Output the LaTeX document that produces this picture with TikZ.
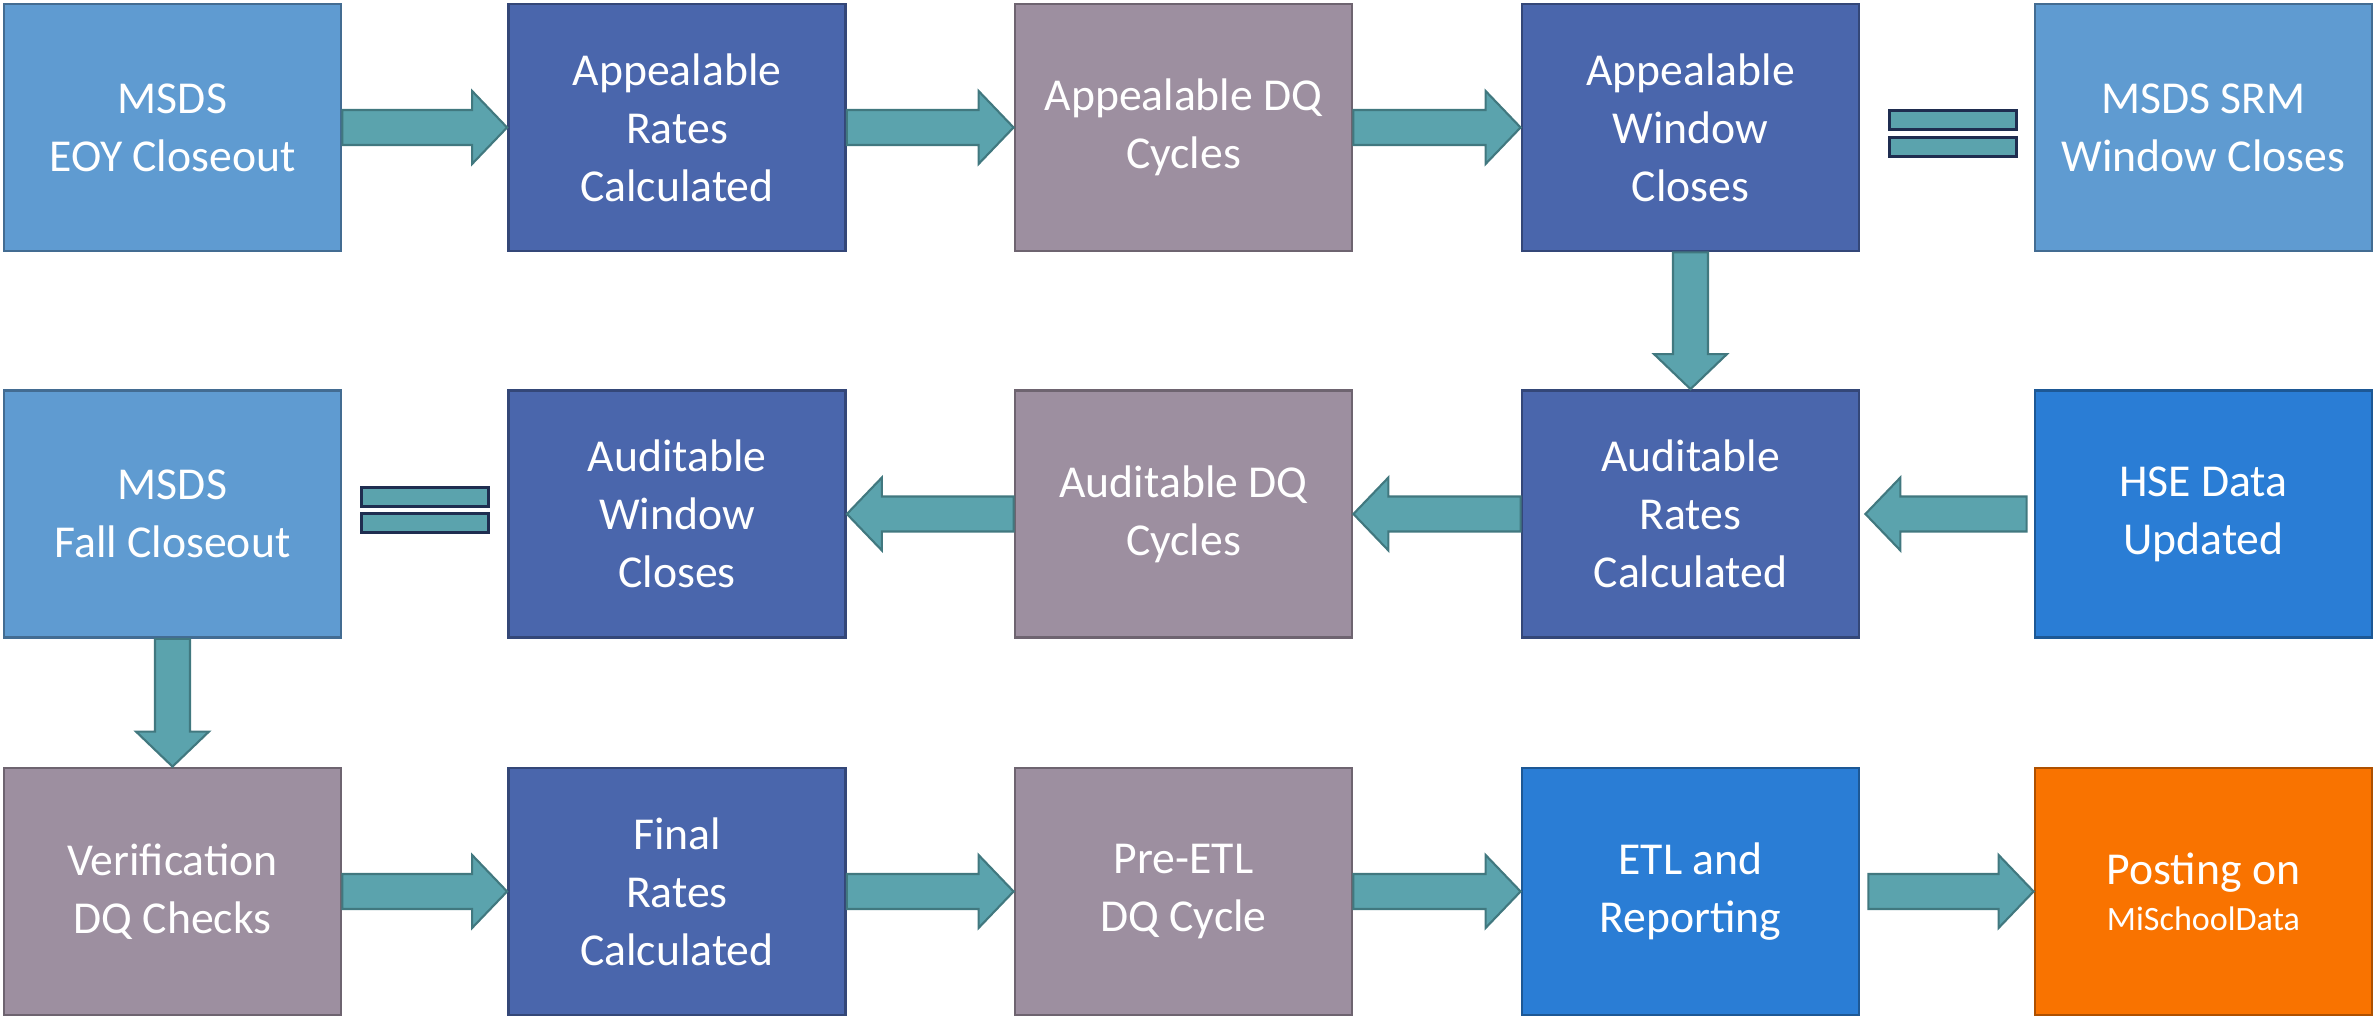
\documentclass[tikz,border=0pt]{standalone}
\usepackage{fontspec}
\setmainfont{Carlito}
\usetikzlibrary{calc}
\definecolor{lightblue}{HTML}{5F9BD1}
\definecolor{darkblue}{HTML}{4A66AC}
\definecolor{mauve}{HTML}{9D8FA0}
\definecolor{brightblue}{HTML}{2A7DD5}
\definecolor{postorange}{HTML}{F97300}
\definecolor{teal}{HTML}{5BA3AD}
\definecolor{tealedge}{HTML}{41787F}
\definecolor{navy}{HTML}{1F2D50}
% block arrow from #1 (tail) to #2 (tip)
\newcommand{\flowarrow}[2]{%
	\coordinate (hb) at ($(#2)!\headlen!(#1)$);
	\draw[flow] ($(#1)!\shaftw!90:(#2)$) -- ($(hb)!\shaftw!90:(#2)$) -- ($(hb)!\headw!90:(#2)$) -- (#2)
		-- ($(hb)!\headw!-90:(#2)$) -- ($(hb)!\shaftw!-90:(#2)$) -- ($(#1)!\shaftw!-90:(#2)$) -- cycle;}
\begin{document}
\begin{tikzpicture}[line join=miter,
	box/.style={draw=#1!70!black, fill=#1, line width=0.8pt, minimum width=3.37cm, minimum height=2.47cm,
		inner sep=0pt, align=center, text=white, font=\fontsize{13}{16.5}\selectfont},
	flow/.style={draw=tealedge, fill=teal, line width=0.6pt},
	eqbar/.style={draw=navy, fill=teal, line width=0.85pt, minimum width=1.27cm, minimum height=0.19cm, inner sep=0pt}]
	\def\shaftw{0.175cm} \def\headw{0.365cm} \def\headlen{0.35cm}
	\useasboundingbox (0,0) rectangle (23.77,-10.2);
	% first row
	\node[box=lightblue] (msdseoy) at (1.725,-1.275) {MSDS\\EOY Closeout};
	\node[box=darkblue] (apprates) at (6.77,-1.275) {Appealable\\Rates\\Calculated};
	\node[box=mauve] (appdq) at (11.835,-1.275) {Appealable DQ\\Cycles};
	\node[box=darkblue] (appwin) at (16.905,-1.275) {Appealable\\Window\\Closes};
	\node[box=lightblue] (srm) at (22.035,-1.275) {MSDS SRM\\Window Closes};
	% second row
	\node[box=lightblue] (msdsfall) at (1.725,-5.14) {MSDS\\Fall Closeout};
	\node[box=darkblue] (audwin) at (6.77,-5.14) {Auditable\\Window\\Closes};
	\node[box=mauve] (auddq) at (11.835,-5.14) {Auditable DQ\\Cycles};
	\node[box=darkblue] (audrates) at (16.905,-5.14) {Auditable\\Rates\\Calculated};
	\node[box=brightblue] (hse) at (22.035,-5.14) {HSE Data\\Updated};
	% third row
	\node[box=mauve] (verif) at (1.725,-8.915) {Verification\\DQ Checks};
	\node[box=darkblue] (finrates) at (6.77,-8.915) {Final\\Rates\\Calculated};
	\node[box=mauve] (preetl) at (11.835,-8.915) {Pre-ETL\\DQ Cycle};
	\node[box=brightblue] (etl) at (16.905,-8.915) {ETL and\\Reporting};
	\node[box=postorange, font=\fontsize{13}{13}\selectfont] (posting) at (22.035,-8.915)
		{Posting on\\{\fontsize{9.7}{13}\selectfont MiSchoolData}};
	% arrows
	\flowarrow{msdseoy.east}{apprates.west}
	\flowarrow{apprates.east}{appdq.west}
	\flowarrow{appdq.east}{appwin.west}
	\flowarrow{appwin.south}{audrates.north}
	\coordinate (hseout) at ($(hse.west)+(-0.07,0)$);
	\coordinate (audin) at ($(audrates.east)+(0.05,0)$);
	\flowarrow{hseout}{audin}
	\flowarrow{audrates.west}{auddq.east}
	\flowarrow{auddq.west}{audwin.east}
	\flowarrow{msdsfall.south}{verif.north}
	\flowarrow{verif.east}{finrates.west}
	\flowarrow{finrates.east}{preetl.west}
	\flowarrow{preetl.east}{etl.west}
	\coordinate (etlout) at ($(etl.east)+(0.08,0)$);
	\flowarrow{etlout}{posting.west}
	% equal signs
	\coordinate (eqone) at ($(appwin.east)!0.5!(srm.west)+(0.055,-0.065)$);
	\node[eqbar] (eqonea) at ($(eqone)+(0,0.135)$) {};
	\node[eqbar] (eqoneb) at ($(eqone)+(0,-0.135)$) {};
	\coordinate (eqtwo) at ($(msdsfall.east)!0.5!(audwin.west)+(0,0.04)$);
	\node[eqbar] (eqtwoa) at ($(eqtwo)+(0,0.13)$) {};
	\node[eqbar] (eqtwob) at ($(eqtwo)+(0,-0.13)$) {};
\end{tikzpicture}
\end{document}
